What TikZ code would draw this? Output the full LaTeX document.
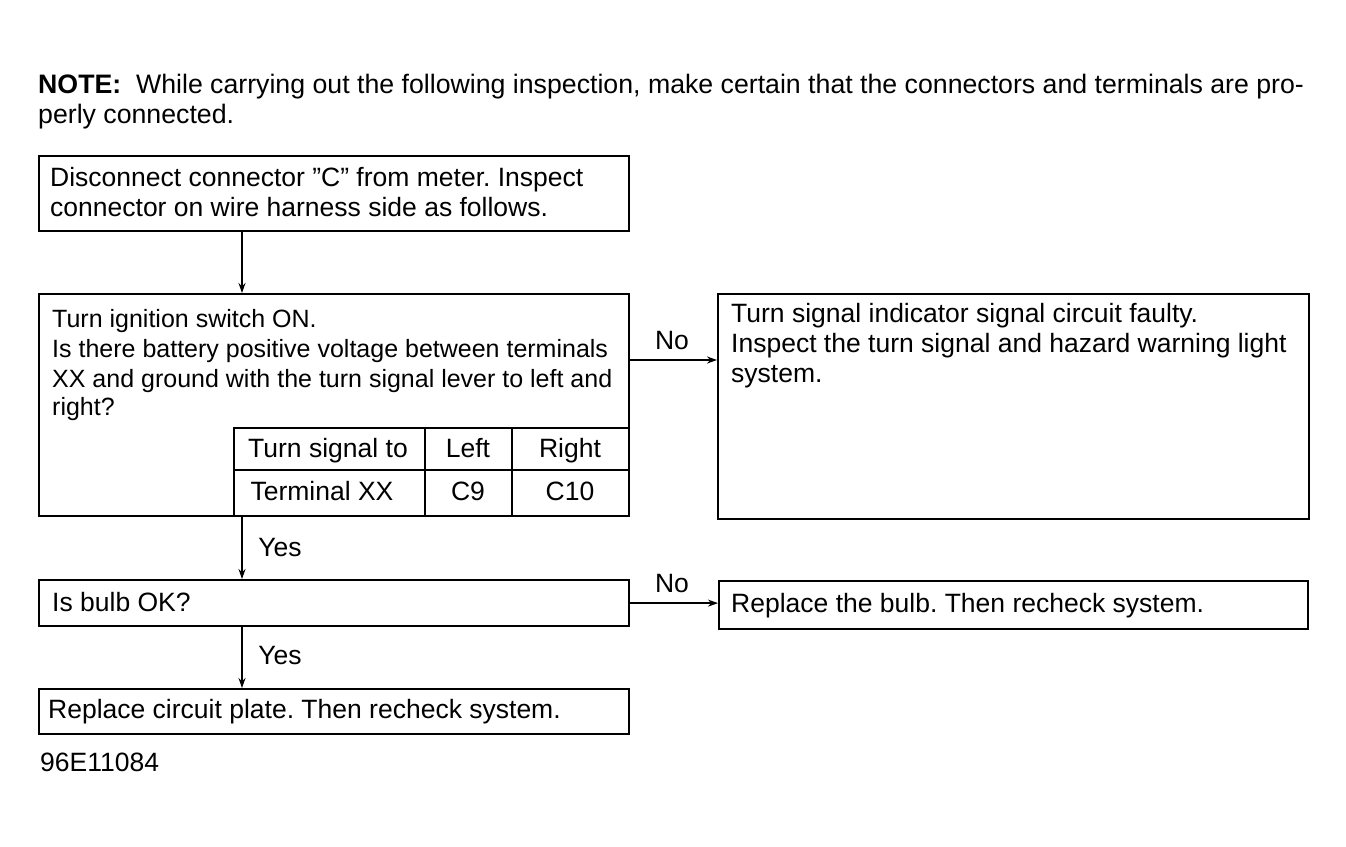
\documentclass[tikz,border=0pt]{standalone}
\usepackage{fontspec}
\setmainfont{Liberation Sans}
\usetikzlibrary{arrows.meta}
\begin{document}
\frenchspacing
\begin{tikzpicture}[x=1pt,y=-1pt,
  box/.style={draw,line width=2.2pt,inner sep=0pt,anchor=north west},
  txt/.style={anchor=base west,inner sep=0pt,font=\fontsize{26.5}{30}\selectfont},
  stxt/.style={anchor=base west,inner sep=0pt,font=\fontsize{25}{30}\selectfont},
  cell/.style={anchor=base,inner sep=0pt,font=\fontsize{26.5}{30}\selectfont},
  lbl/.style={anchor=base,inner sep=0pt,font=\fontsize{26.5}{30}\selectfont},
  conn/.style={line width=2pt,-{Stealth[length=10pt,width=7pt]}},
  rule/.style={line width=2.2pt}]
\useasboundingbox (0,0) rectangle (1346,846);

% note
\node[txt,font=\fontsize{26.7}{30}\selectfont] (note1) at (38,93) {\textbf{NOTE:}\ \ While carrying out the following inspection, make certain that the connectors and terminals are pro-};
\node[txt,font=\fontsize{26.7}{30}\selectfont] (note2) at (38,123) {perly connected.};

% box A
\node[box,minimum width=590pt,minimum height=75pt] (a) at (38,155) {};
\node[txt] (a1) at (50,186) {Disconnect connector ''C'' from meter. Inspect};
\node[txt] (a2) at (50,216) {connector on wire harness side as follows.};

% box B
\node[box,minimum width=590pt,minimum height=222pt] (b) at (38,293) {};
\node[stxt] (b1) at (52,327) {Turn ignition switch ON.};
\node[stxt] (b2) at (52,357) {Is there battery positive voltage between terminals};
\node[stxt] (b3) at (52,387) {XX and ground with the turn signal lever to left and};
\node[stxt] (b4) at (52,415) {right?};

% table
\node[box,minimum width=395pt,minimum height=88pt] (tbl) at (233,427) {};
\coordinate (r1) at (233,470);
\coordinate (r2) at (628,470);
\coordinate (c1t) at (425,427);
\coordinate (c1b) at (425,515);
\coordinate (c2t) at (512,427);
\coordinate (c2b) at (512,515);
\draw[rule] (r1) -- (r2);
\draw[rule] (c1t) -- (c1b);
\draw[rule] (c2t) -- (c2b);
\node[cell] (t11) at (328,457) {Turn signal to};
\node[cell] (t12) at (468,457) {Left};
\node[cell] (t13) at (570,457) {Right};
\node[cell] (t21) at (322,500) {Terminal XX};
\node[cell] (t22) at (468,500) {C9};
\node[cell] (t23) at (570,500) {C10};

% box C
\node[box,minimum width=591pt,minimum height=225pt] (c) at (717,293) {};
\node[txt] (c1) at (731,322) {Turn signal indicator signal circuit faulty.};
\node[txt] (c2) at (731,352) {Inspect the turn signal and hazard warning light};
\node[txt] (c3) at (731,382) {system.};

% box D
\node[box,minimum width=590pt,minimum height=46pt] (d) at (38,579) {};
\node[txt] (d1) at (52,611) {Is bulb OK?};

% box E
\node[box,minimum width=589pt,minimum height=48pt] (e) at (718,580) {};
\node[txt] (e1) at (731,612) {Replace the bulb. Then recheck system.};

% box F
\node[box,minimum width=590pt,minimum height=45pt] (f) at (38,688) {};
\node[txt] (f1) at (48,718) {Replace circuit plate. Then recheck system.};

\node[txt] (code) at (40,771) {96E11084};

% connectors
\draw[conn] (a.south -| 242,0) -- (b.north -| 242,0);
\draw[conn] (b.south -| 242,0) -- (d.north -| 242,0);
\draw[conn] (d.south -| 242,0) -- (f.north -| 242,0);
\draw[conn] (b.east |- 0,360) -- (c.west |- 0,360);
\draw[conn] (d.east) -- (e.west |- d.east);

\node[lbl] (y1) at (280,556) {Yes};
\node[lbl] (y2) at (280,664) {Yes};
\node[lbl] (n1) at (672,349) {No};
\node[lbl] (n2) at (672,592) {No};
\end{tikzpicture}
\end{document}
